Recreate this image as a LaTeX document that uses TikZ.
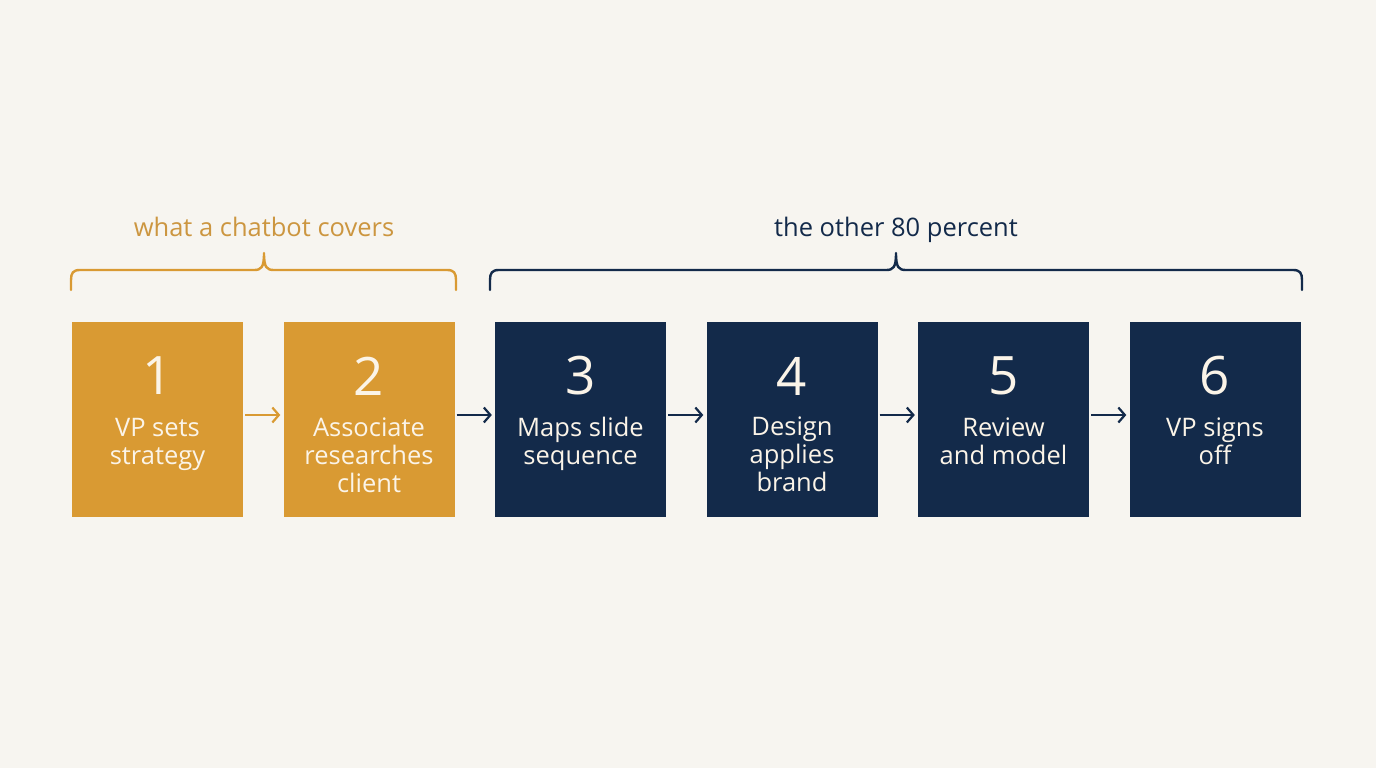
\documentclass[tikz,border=0pt]{standalone}
\usepackage{fontspec}
\setmainfont{Open Sans}
\usetikzlibrary{arrows.meta,calc}
\definecolor{bg}{HTML}{F7F5F0}
\definecolor{ochre}{HTML}{D99A33}
\definecolor{ochretext}{HTML}{CC9640}
\definecolor{navy}{HTML}{132A4A}
\definecolor{boxtext}{HTML}{FBF4E8}
\tikzset{
  stepbox/.style={fill=#1, draw=none, minimum width=171pt, minimum height=195pt, inner sep=0pt},
  numlabel/.style={text=boxtext, font=\fontsize{53}{58}\selectfont, inner sep=0pt},
  desclabel/.style={text=boxtext, font=\fontsize{25.5}{28}\selectfont, align=center, inner sep=0pt, anchor=north},
  flow/.style={draw=#1, line width=2.2pt, -{Straight Barb[length=6.5pt,width=15pt,line width=2.2pt]}, shorten <=2pt, shorten >=3pt},
  bracepath/.style={draw=#1, line width=2.4pt, line cap=round, line join=round},
  bracelabel/.style={text=#1, font=\fontsize{25.5}{28}\selectfont, inner sep=0pt, anchor=base}
}
\begin{document}
\begin{tikzpicture}[x=1pt,y=-1pt]
\useasboundingbox[fill=bg] (0,0) rectangle (1376,768);

% boxes
\node[stepbox=ochre] (b1) at (157.5,419.5) {};
\node[stepbox=ochre] (b2) at (369,419.5) {};
\node[stepbox=navy] (b3) at (580.5,419.5) {};
\node[stepbox=navy] (b4) at (792,419.5) {};
\node[stepbox=navy] (b5) at (1003.5,419.5) {};
\node[stepbox=navy] (b6) at (1215,419.5) {};

% numbers
\node[numlabel] (n1) at (157.5,376) {1};
\node[numlabel] (n2) at (369,376) {2};
\node[numlabel] (n3) at (580.5,376) {3};
\node[numlabel] (n4) at (792,376) {4};
\node[numlabel] (n5) at (1003.5,376) {5};
\node[numlabel] (n6) at (1215,376) {6};

% descriptions
\node[desclabel] (t1) at (157.5,418) {VP sets\\strategy};
\node[desclabel] (t2) at (369,418) {Associate\\researches\\client};
\node[desclabel] (t3) at (580.5,417) {Maps slide\\sequence};
\node[desclabel] (t4) at (792,417) {Design\\applies\\brand};
\node[desclabel] (t5) at (1003.5,418) {Review\\and model};
\node[desclabel] (t6) at (1215,418) {VP signs\\off};

% arrows
\draw[flow=ochre] ([yshift=4.5pt]b1.east) -- ([yshift=4.5pt]b2.west);
\draw[flow=navy] ([yshift=4.5pt]b2.east) -- ([yshift=4.5pt]b3.west);
\draw[flow=navy] ([yshift=4.5pt]b3.east) -- ([yshift=4.5pt]b4.west);
\draw[flow=navy] ([yshift=4.5pt]b4.east) -- ([yshift=4.5pt]b5.west);
\draw[flow=navy] ([yshift=4.5pt]b5.east) -- ([yshift=4.5pt]b6.west);

% braces
\draw[bracepath=ochre] (71,290) -- (71,280) .. controls (71,273) and (73,270) .. (80,270)
  -- (254,270) .. controls (261,270) and (264,268) .. (264,253)
  .. controls (264,268) and (267,270) .. (274,270)
  -- (447,270) .. controls (454,270) and (456,273) .. (456,280) -- (456,290);
\draw[bracepath=navy] (490,290) -- (490,280) .. controls (490,273) and (492,270) .. (499,270)
  -- (886,270) .. controls (893,270) and (896,268) .. (896,253)
  .. controls (896,268) and (899,270) .. (906,270)
  -- (1293,270) .. controls (1300,270) and (1302,273) .. (1302,280) -- (1302,290);

% brace labels
\node[bracelabel=ochretext] (l1) at (264,236) {what a chatbot covers};
\node[bracelabel=navy] (l2) at (896,236) {the other 80 percent};
\end{tikzpicture}
\end{document}
